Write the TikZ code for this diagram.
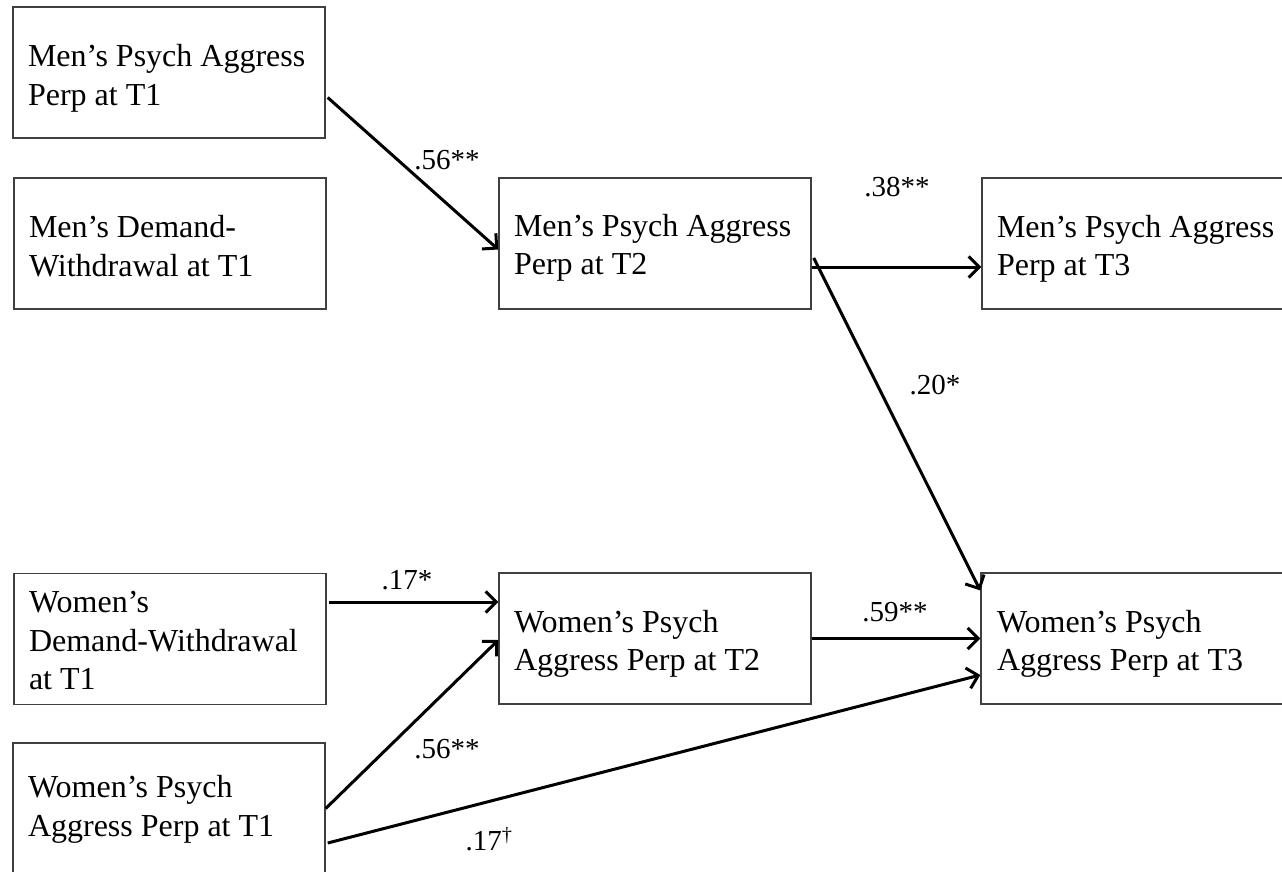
\documentclass[tikz,border=0pt]{standalone}
\usepackage{fontspec}
\setmainfont{Liberation Serif}
\usetikzlibrary{arrows.meta}
% invisible strut that sets the height of a box's first line
\newcommand\firstline[1]{\rule{0pt}{#1}}
\begin{document}
\begin{tikzpicture}[x=1pt,y=-1pt,
  varbox/.style={draw=black!75, line width=1.4pt, fill=white,
    minimum width=312pt, minimum height=131pt, inner xsep=15pt,
    text width=282pt, align=flush left,
    font=\fontsize{32}{38.5}\selectfont},
  path/.style={line width=3pt, draw=black,
    -{Straight Barb[length=10.5pt,width=21pt]}},
  coef/.style={font=\fontsize{29}{32}\selectfont, inner sep=0pt}]
\useasboundingbox (0,0) rectangle (1282,871);

% measured variables
\node[varbox] (mp1) at (169,72.5)  {\firstline{34pt}Men’s Psych Aggress\\Perp at T1};
\node[varbox] (md1) at (170,243.5) {\firstline{27pt}Men’s Demand-\\Withdrawal at T1};
\node[varbox] (mp2) at (655,243.5) {\firstline{31pt}Men’s Psych Aggress\\Perp at T2};
\node[varbox, inner xsep=12pt] (mp3) at (1138,243.5) {\firstline{33pt}Men’s Psych Aggress\\Perp at T3};
\node[varbox] (wd1) at (170,639)   {\firstline{25pt}Women’s\\Demand-Withdrawal\\at T1};
\node[varbox] (wp1) at (169,808.5) {\firstline{24pt}Women’s Psych\\Aggress Perp at T1};
\node[varbox] (wp2) at (655,638.5) {\firstline{33pt}Women’s Psych\\Aggress Perp at T2};
\node[varbox, inner xsep=16pt] (wp3) at (1138,638.5) {\firstline{33pt}Women’s Psych\\Aggress Perp at T3};

% paths
\draw[path] ([xshift=2pt,yshift=-25pt]mp1.east) -- ([yshift=-6pt]mp2.west);
\draw[path] ([yshift=-23.5pt]mp2.east) -- ([yshift=-23.5pt]mp3.west);
\draw[path] ([xshift=2pt,yshift=-14.5pt]mp2.east) -- ([yshift=48pt]wp3.west);
\draw[path] ([xshift=2pt,yshift=37pt]wd1.east) -- ([yshift=36.5pt]wp2.west);
\draw[path] (wp1.east) -- ([yshift=-1.5pt]wp2.west);
\draw[path] ([xshift=2pt,yshift=-34.5pt]wp1.east) -- ([yshift=-36.5pt]wp3.west);
\draw[path] (wp2.east) -- (wp3.west);

% coefficients
\node[coef] (c1) at (447,160) {.56**};
\node[coef] (c2) at (897,187) {.38**};
\node[coef] (c3) at (935,385) {.20*};
\node[coef] (c4) at (407,580) {.17*};
\node[coef] (c5) at (447,749) {.56**};
\node[coef] (c6) at (895,612) {.59**};
\node[coef] (c7) at (489,839) {.17\textsuperscript{†}};
\end{tikzpicture}
\end{document}
